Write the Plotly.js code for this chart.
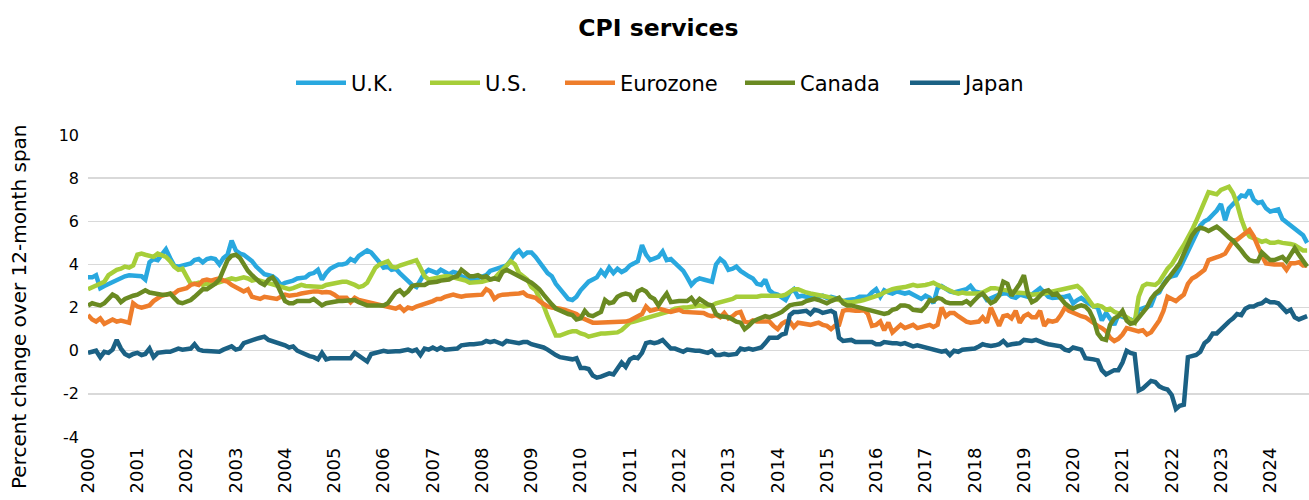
<!DOCTYPE html>
<html>
<head>
<meta charset="utf-8">
<script src="https://cdn.plot.ly/plotly-3.0.1.min.js"></script>
<style>html,body{margin:0;padding:0;background:#fff;}#chart{width:1309px;height:500px;}</style>
</head>
<body>
<div id="chart"></div>
<script>
// Monthly data, Jan 2000 onward (percent change over 12-month span)
const startYear = 2000;
const seriesNames = ['U.K.', 'U.S.', 'Eurozone', 'Canada', 'Japan'];
const seriesColors = ['#29A8DF', '#A6CE39', '#EE7D2B', '#6A8A22', '#1B6184'];

const ukValues = [
3.4,3.4,3.5,2.9,3.0,3.1,3.15,3.3,3.4,3.45, 3.5,3.5,3.5,3.45,3.3,4.1,4.25,4.2,4.45,4.7,
4.3,3.95,3.9,3.95,4.0,4.05,4.2,4.25,4.1,4.25, 4.3,4.25,4.0,4.3,4.45,5.1,4.65,4.5,4.45,4.3,
4.15,3.9,3.7,3.55,3.5,3.45,3.3,3.05,3.15,3.2,
3.25,3.35,3.35,3.4,3.55,3.6,3.75,3.3,3.6,3.8, 3.9,4.0,4.0,4.05,4.25,4.15,4.4,4.55,4.65,4.55,
4.35,4.1,3.85,3.9,3.75,3.8,3.6,3.4,3.25,3.05, 2.95,3.3,3.6,3.75,3.7,3.6,3.75,3.65,3.55,3.65,
3.6,3.45,3.35,3.3,3.3,3.35,3.4,3.5,3.7,
3.75,3.8,3.85,3.95,4.2,4.5,4.65,4.4,4.55,4.55, 4.35,4.15,3.85,3.6,3.45,3.1,2.85,2.6,2.4,2.35,
2.5,2.8,3.05,3.2,3.3,3.4,3.7,3.5,3.85,3.6, 3.8,3.65,3.75,3.95,4.05,4.15,4.9,4.45,4.2,4.3,
4.35,4.6,4.2,4.25,4.05,3.85,3.7,3.4,3.05,3.25,
3.35,3.3,3.25,3.2,4.0,4.25,4.1,3.75,3.8,3.9, 3.7,3.55,3.45,3.35,3.1,3.05,3.3,2.8,2.65,2.6,
2.45,2.35,2.7,2.85,2.5,2.55,2.5,2.45,2.45,2.5, 2.55,2.45,2.5,2.45,2.35,2.3,2.35,2.35,2.4,2.5,
2.5,2.5,2.7,2.85,2.5,2.8,2.7,2.65,2.75,2.7,
2.65,2.7,2.6,2.45,2.4,2.55,2.45,2.2,2.9,3.0, 2.85,2.75,2.7,2.75,2.75,2.85,3.0,2.75,2.7,2.65,
2.35,2.45,2.55,2.6,2.65,2.65,2.5,2.45,2.6,2.55, 2.5,2.6,2.75,2.9,2.7,2.5,2.45,2.45,2.5,2.5,
2.55,2.2,2.35,2.45,2.3,2.15,2.05,2.0,1.4,1.75,
1.5,1.2,1.65,1.55,1.5,1.45,1.35,1.9,1.95,2.05, 2.1,2.6,2.7,3.1,3.35,3.45,3.5,3.8,4.2,4.6,
5.0,5.4,5.8,6.0,6.1,6.3,6.5,6.8,6.05,6.6, 6.8,7.0,7.2,7.15,7.45,7.0,6.85,6.9,6.6,6.45,
6.5,6.55,6.1,5.95,5.85,5.7,5.55,5.35,5.0
];

const usValues = [
2.85,2.95,3.05,3.1,3.2,3.5,3.65,3.75,3.8,3.9, 3.85,3.95,4.45,4.5,4.45,4.4,4.35,4.5,4.45,4.35,
4.15,3.9,3.75,3.8,3.45,3.1,3.1,3.15,3.05,3.1, 3.05,3.1,3.15,3.25,3.3,3.35,3.3,3.35,3.4,3.35,
3.25,3.3,3.25,3.2,3.15,3.1,3.0,2.95,2.9,2.85,
2.9,2.95,3.05,3.0,3.0,3.0,3.0,2.95,3.05,3.1, 3.15,3.15,3.2,3.2,3.15,3.05,2.95,3.0,3.15,3.45,
3.85,4.0,4.05,4.15,3.9,3.85,3.95,4.0,4.05,4.15, 4.2,3.85,3.45,3.3,3.35,3.35,3.4,3.45,3.45,3.4,
3.4,3.35,3.25,3.15,3.15,3.15,3.2,3.25,3.3,
3.35,3.55,3.75,3.95,4.15,4.0,3.6,3.45,3.3,2.95, 2.8,2.45,2.1,1.6,1.1,0.7,0.7,0.8,0.85,0.9,
0.9,0.8,0.75,0.65,0.7,0.8,0.8,0.8,0.8,0.82, 0.85,0.95,1.15,1.3,1.35,1.4,1.45,1.5,1.55,1.6,
1.65,1.75,1.8,1.85,1.95,2.0,2.0,2.0,2.05,2.1,
2.1,2.05,2.05,2.1,2.2,2.25,2.25,2.35,2.4,2.5, 2.5,2.45,2.5,2.5,2.5,2.55,2.55,2.55,2.5,2.5,
2.55,2.6,2.7,2.85,2.85,2.75,2.7,2.65,2.6,2.55, 2.55,2.5,2.45,2.4,2.35,2.3,2.25,2.25,2.25,2.3,
2.35,2.4,2.45,2.55,2.6,2.7,2.8,2.85,2.9,2.9,
2.95,3.0,3.05,3.0,3.0,3.05,3.1,3.15,3.05,2.95, 2.85,2.75,2.7,2.65,2.7,2.65,2.65,2.6,2.65,2.7,
2.8,2.9,2.9,2.85,2.85,2.8,2.75,2.7,2.7,2.65, 2.65,2.6,2.6,2.65,2.65,2.7,2.75,2.8,2.8,2.85,
2.9,3.0,3.0,2.85,2.6,2.3,2.05,2.1,2.05,1.9,
1.95,1.8,1.75,1.65,1.55,1.45,1.3,2.5,3.0,3.1, 3.1,3.05,3.2,3.55,3.8,4.0,4.35,4.6,4.9,5.2,
5.6,6.0,6.45,6.9,7.35,7.3,7.25,7.45,7.55,7.6, 7.3,6.8,6.1,5.6,5.3,5.2,5.15,5.05,5.1,5.0,
5.0,5.05,5.0,5.0,4.95,4.9,4.8,4.65,4.65
];

const euroValues = [
1.65,1.45,1.35,1.5,1.25,1.35,1.45,1.35,1.4,1.35, 1.3,2.2,2.05,2.0,2.05,2.1,2.3,2.45,2.55,2.6,
2.6,2.65,2.8,2.85,2.9,3.05,3.1,3.05,3.25,3.3, 3.25,3.3,3.35,3.25,3.2,3.05,2.95,2.8,2.75,2.85,
2.5,2.45,2.4,2.5,2.45,2.45,2.4,2.5,2.6,2.55,
2.6,2.6,2.65,2.7,2.7,2.75,2.75,2.7,2.72,2.7, 2.6,2.45,2.45,2.45,2.25,2.45,2.35,2.3,2.3,2.2,
2.15,2.1,2.05,2.05,2.0,1.95,2.05,1.85,2.0,1.95, 2.05,2.1,2.15,2.2,2.3,2.4,2.4,2.5,2.55,2.6,
2.55,2.5,2.55,2.55,2.55,2.6,2.6,2.85,2.75,
2.4,2.55,2.6,2.6,2.65,2.6,2.65,2.7,2.55,2.5, 2.45,2.3,2.15,2.05,2.0,2.0,1.95,1.9,1.85,1.8,
1.7,1.55,1.45,1.35,1.3,1.3,1.3,1.35,1.35,1.35, 1.35,1.35,1.35,1.4,1.5,1.6,1.7,2.05,1.85,1.9,
1.95,1.9,1.85,1.8,1.85,1.9,1.8,1.8,1.75,1.8,
1.8,1.75,1.65,1.6,1.65,1.55,1.75,1.5,1.6,1.75, 1.8,1.35,1.3,1.4,1.35,1.35,1.3,1.35,1.15,1.0,
1.25,1.35,1.35,1.1,1.3,1.25,1.2,1.2,1.25,1.3, 1.2,1.15,1.0,1.15,1.2,1.85,1.9,1.85,1.85,1.85,
1.9,1.7,1.15,1.2,1.35,0.95,1.3,0.85,1.0,1.2,
1.05,1.1,1.2,1.05,1.1,1.15,1.2,1.1,1.2,2.0, 1.6,1.75,1.75,1.6,1.45,1.35,1.3,1.3,1.35,1.55,
1.3,2.0,1.5,1.15,1.6,1.65,1.5,1.85,1.3,1.6, 1.7,1.55,1.55,1.85,1.15,1.4,1.35,1.4,1.65,2.0,
1.85,1.75,1.7,1.6,1.55,1.4,1.25,1.15,1.05,0.9,
0.6,0.45,0.55,0.75,1.05,1.0,0.95,0.9,0.95,0.75, 0.85,1.1,1.4,1.85,2.5,2.4,2.3,2.45,2.6,3.1,
3.35,3.45,3.6,3.75,4.2,4.25,4.3,4.4,4.5,4.8, 5.1,5.15,5.3,5.4,5.6,5.3,4.8,4.4,4.05,4.0,
4.0,4.0,4.0,3.75,4.05,4.05,4.1,3.95,3.95
];

const canadaValues = [
2.1,2.2,2.15,2.1,2.2,2.4,2.6,2.5,2.25,2.4, 2.5,2.55,2.6,2.7,2.8,2.7,2.65,2.6,2.6,2.6,
2.65,2.45,2.25,2.2,2.25,2.35,2.5,2.65,2.85,2.85, 2.95,3.1,3.3,3.7,4.2,4.4,4.45,4.3,4.0,3.7,
3.5,3.3,3.15,3.05,3.3,3.4,3.1,2.7,2.3,2.2,
2.2,2.3,2.3,2.35,2.3,2.4,2.25,2.1,2.2,2.25, 2.25,2.3,2.3,2.3,2.3,2.35,2.25,2.15,2.1,2.1,
2.1,2.05,2.1,2.2,2.4,2.7,2.8,2.6,2.75,3.0, 3.05,3.05,3.05,3.15,3.15,3.2,3.25,3.25,3.3,3.4,
3.45,3.75,3.6,3.45,3.45,3.5,3.4,3.45,3.3,
3.35,3.3,3.65,3.75,3.65,3.55,3.5,3.4,3.3,3.15, 3.0,2.85,2.6,2.35,2.15,1.95,1.85,1.75,1.7,1.65,
1.45,1.5,1.85,1.65,1.6,1.7,1.8,2.35,2.2,2.25, 2.5,2.6,2.65,2.6,2.3,2.75,2.85,2.75,2.5,2.4,
2.1,2.4,2.65,2.25,2.3,2.3,2.3,2.3,2.45,2.2,
2.4,2.25,2.15,2.1,1.7,1.6,1.6,1.55,1.45,1.35, 1.3,1.0,1.15,1.35,1.45,1.55,1.6,1.55,1.6,1.7,
1.8,1.95,2.1,2.15,2.15,2.2,2.3,2.35,2.4,2.35, 2.3,2.2,2.3,2.35,2.45,2.2,2.1,2.1,2.05,2.0,
1.95,1.9,1.8,1.75,1.7,1.7,1.75,1.9,1.95,2.1,
2.1,2.05,1.9,1.85,1.85,2.05,2.35,2.3,2.45,2.4, 2.25,2.2,2.2,2.15,2.2,2.3,2.15,2.35,2.55,2.65,
2.4,2.2,2.3,2.55,3.2,3.1,2.55,2.85,3.1,3.5, 2.6,2.25,2.35,2.55,2.75,2.8,2.6,2.65,2.4,2.2,
2.05,1.95,2.05,2.1,2.05,1.85,1.45,0.8,0.55,0.5,
1.2,1.5,1.6,1.85,1.4,1.25,1.3,1.55,1.75,2.0, 2.4,2.65,2.8,3.05,3.3,3.6,3.85,4.05,4.5,4.95,
5.35,5.6,5.7,5.65,5.55,5.65,5.75,5.6,5.4,5.25, 5.1,4.9,4.65,4.4,4.2,4.15,4.15,4.55,4.35,4.2,
4.2,4.25,4.35,4.15,4.5,4.75,4.45,4.15,3.9
];

const japanValues = [
-0.1,-0.05,0.0,-0.3,-0.05,-0.1,0.05,0.5,0.1,-0.15, -0.25,-0.15,-0.1,-0.2,-0.15,0.1,-0.3,-0.1,-0.05,-0.05,
-0.05,0.05,0.1,0.05,0.05,0.1,0.3,0.05,0.0,0.0, 0.0,0.0,-0.05,0.05,0.15,0.2,0.05,0.1,0.35,0.4,
0.45,0.55,0.6,0.65,0.5,0.45,0.4,0.35,0.25,0.15,
0.2,0.0,-0.1,-0.2,-0.25,-0.3,-0.4,-0.1,-0.4,-0.35, -0.35,-0.35,-0.35,-0.35,-0.35,-0.1,-0.25,-0.4,-0.5,-0.15,
-0.1,-0.1,0.0,-0.05,-0.02,-0.02,-0.02,0.0,0.05,-0.02, 0.05,-0.2,0.1,0.05,0.15,0.05,0.15,0.05,0.05,0.05,
0.1,0.25,0.3,0.3,0.3,0.3,0.35,0.45,0.4,
0.45,0.35,0.3,0.45,0.4,0.35,0.35,0.4,0.4,0.3, 0.25,0.2,0.15,0.05,-0.1,-0.2,-0.3,-0.35,-0.4,-0.4,
-0.35,-0.8,-0.8,-0.85,-1.15,-1.25,-1.2,-1.15,-1.05,-1.1, -0.85,-0.55,-0.75,-0.4,-0.3,-0.35,-0.1,0.35,0.4,0.35,
0.4,0.5,0.3,0.1,0.1,0.05,-0.05,0.05,0.0,0.0,
0.0,-0.05,-0.1,0.0,-0.2,-0.2,-0.15,-0.2,-0.2,-0.15, 0.1,0.05,0.1,0.05,0.1,0.15,0.35,0.6,0.6,0.6,
0.75,0.8,1.65,1.8,1.8,1.8,1.85,1.7,1.9,1.85, 1.75,1.8,1.85,1.75,0.6,0.45,0.5,0.5,0.4,0.4,
0.4,0.45,0.4,0.3,0.3,0.4,0.35,0.35,0.35,0.3,
0.35,0.25,0.2,0.25,0.2,0.15,0.15,0.05,0.0,-0.05, 0.0,-0.2,0.0,-0.05,0.05,0.07,0.1,0.1,0.2,0.3,
0.25,0.22,0.25,0.3,0.45,0.25,0.3,0.35,0.35,0.5, 0.45,0.45,0.5,0.4,0.35,0.3,0.25,0.22,0.2,0.05,
0.0,0.15,0.1,0.05,-0.35,-0.35,-0.4,-0.45,-0.9,-1.1,
-1.0,-0.9,-0.9,-0.55,0.0,-0.1,-0.15,-1.85,-1.75,-1.6, -1.4,-1.45,-1.65,-1.75,-1.8,-2.05,-2.7,-2.55,-2.5,-0.3,
-0.25,-0.2,-0.05,0.35,0.5,0.8,0.8,1.0,1.2,1.35, 1.5,1.7,1.65,1.95,2.05,2.05,2.15,2.2,2.35,2.25,
2.25,2.2,2.0,1.8,1.9,1.55,1.45,1.5,1.6
];

const tickYears = ['2000','2001','2002','2003','2004','2005','2006','2007','2008','2009','2010','2011','2012',
  '2013','2014','2015','2016','2017','2018','2019','2020','2021','2022','2023','2024'];
const yTickValues = [-4, -2, 0, 2, 4, 6, 8, 10];
const yTickLabels = ['-4', '-2', '0', '2', '4', '6', '8', '10'];

// build monthly date categories
function monthDates(n) {
  const out = [];
  for (let i = 0; i < n; i++) {
    const y = startYear + Math.floor(i / 12);
    const m = (i % 12) + 1;
    out.push(y + '-' + (m < 10 ? '0' + m : m) + '-01');
  }
  return out;
}

const legendIds = ['legend', 'legend2', 'legend3', 'legend4', 'legend5'];
const allValues = [ukValues, usValues, euroValues, canadaValues, japanValues];
const traces = allValues.map((vals, i) => ({
  type: 'scatter',
  mode: 'lines',
  name: seriesNames[i],
  legend: legendIds[i],
  x: monthDates(vals.length),
  y: vals,
  line: { color: seriesColors[i], width: 4.5 },
  hoverinfo: 'skip'
}));

const fontFam = 'DejaVu Sans, Verdana, sans-serif';
const plotLeft = 88, plotWidth = 1221;
// left edges (px) of each legend entry, spread as in the original chart
const legendLeftPx = [291, 425, 560, 740, 905];

const layout = {
  width: 1309,
  height: 500,
  margin: { l: plotLeft, r: 0, t: 135, b: 63 },
  paper_bgcolor: '#ffffff',
  plot_bgcolor: '#ffffff',
  font: { family: fontFam, color: '#000000', size: 17 },
  showlegend: true,
  title: {
    text: '<b>CPI services</b>',
    x: 0.503, xanchor: 'center',
    y: 0.944, yanchor: 'middle',
    font: { family: fontFam, size: 23.5, color: '#000000' }
  },
  annotations: [{
    text: 'Percent change over 12-month span',
    xref: 'paper', yref: 'paper',
    x: -0.0565, y: 0.4305,
    xanchor: 'center', yanchor: 'middle',
    textangle: -90,
    showarrow: false,
    font: { family: fontFam, size: 20, color: '#000000' }
  }],
  xaxis: {
    type: 'date',
    range: ['2000-01-01', '2024-10-15'],
    tickvals: tickYears.map(y => y + '-01-01'),
    ticktext: tickYears,
    tickangle: -90,
    showgrid: false,
    zeroline: false,
    showline: false,
    ticks: '',
    ticklabelstandoff: 6,
    tickfont: { family: fontFam, size: 18, color: '#000000' },
    fixedrange: true
  },
  yaxis: {
    range: [-4, 10],
    tickmode: 'array',
    tickvals: yTickValues,
    ticktext: yTickLabels,
    showgrid: true,
    gridcolor: '#d9d9d9',
    gridwidth: 1.5,
    zeroline: false,
    showline: false,
    ticks: '',
    ticklabelstandoff: 8,
    tickfont: { family: fontFam, size: 16, color: '#000000' },
    fixedrange: true
  }
};

legendIds.forEach((id, i) => {
  layout[id] = {
    orientation: 'h',
    x: (legendLeftPx[i] - plotLeft) / plotWidth,
    xanchor: 'left',
    y: 1.172,
    yanchor: 'middle',
    font: { family: fontFam, size: 21, color: '#000000' },
    itemwidth: 50,
    bgcolor: 'rgba(0,0,0,0)'
  };
});

Plotly.newPlot('chart', traces, layout, { displayModeBar: false, staticPlot: true });
</script>
</body>
</html>
